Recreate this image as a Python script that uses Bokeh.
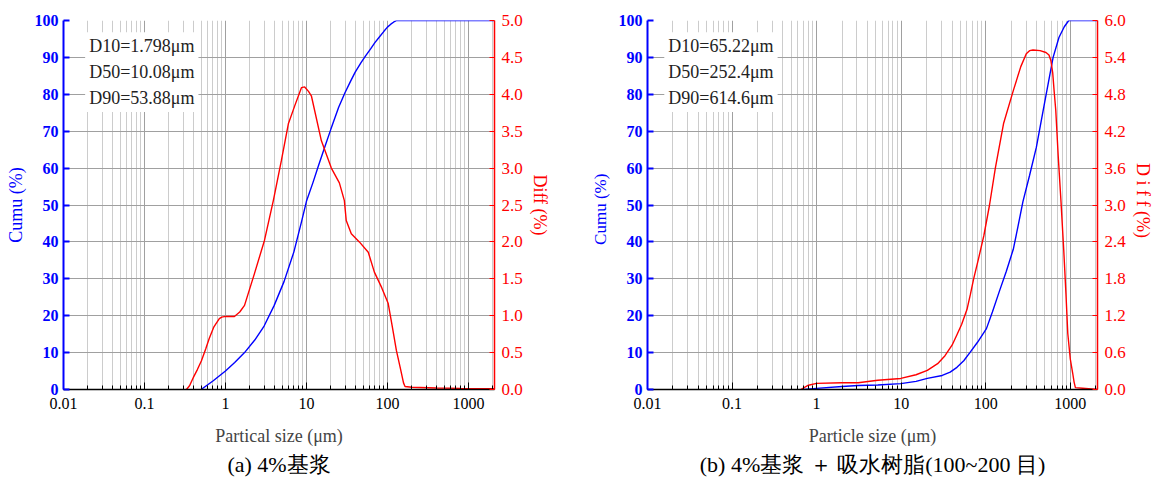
from bokeh.plotting import figure
from bokeh.models import (Range1d, LinearAxis, FixedTicker, PrintfTickFormatter,
                          CustomJSTickFormatter, Label, Title)
from bokeh.layouts import row
from bokeh.embed import file_html
from bokeh.resources import INLINE

# ---------------- data ----------------
# panel (a) 4% base slurry
a_cumu_x = [0.5, 0.7, 1, 1.3, 1.72, 2.3, 3, 4, 5.3, 7, 8.7, 10, 12, 14, 17, 20, 25, 30, 35, 40, 47, 54, 62,
            70, 80, 90, 100, 110, 120, 130, 2100]
a_cumu_y = [0, 2.3, 5, 7.3, 10, 13.4, 17.2, 22.8, 29.3, 37.3, 45.5, 51, 56, 60.5, 66, 70.5, 76.5, 80.5, 83.5,
            86, 88.5, 90.5, 92.3, 94, 95.6, 97, 98.2, 99, 99.6, 100, 100]
a_diff_x = [0.33, 0.36, 0.40, 0.45, 0.505, 0.57, 0.63, 0.72, 0.84, 0.9, 1.0, 1.29, 1.5, 1.72, 2.28, 3.03,
            3.9, 4.9, 5.98, 7.2, 8.67, 9.5, 10.6, 11.5, 15.3, 20.3, 25.5, 29.4, 31, 35.8, 45, 58, 69, 85,
            102, 115, 129, 145, 158, 165, 200, 400, 800, 2100]
a_diff_y = [0, 0.05, 0.16, 0.27, 0.39, 0.55, 0.69, 0.85, 0.96, 0.98, 0.99, 0.99, 1.05, 1.14, 1.57, 2.02,
            2.56, 3.10, 3.60, 3.85, 4.09, 4.10, 4.04, 3.98, 3.37, 3.00, 2.80, 2.56, 2.29, 2.11, 2.0, 1.86,
            1.59, 1.38, 1.17, 0.85, 0.53, 0.28, 0.09, 0.04, 0.03, 0.02, 0.015, 0.01]
a_dvals = ["D10=1.798μm", "D50=10.08μm", "D90=53.88μm"]

# panel (b) 4% base slurry + water-absorbing resin
b_cumu_x = [0.7, 1, 2, 3.1, 5.3, 9.9, 15, 20.4, 30.6, 38, 45.7, 55, 65, 80, 102, 120, 146, 175, 212, 240,
            276, 330, 397, 500, 627, 735, 850, 960, 2100]
b_cumu_y = [0, 0.3, 0.8, 1.1, 1.2, 1.6, 2.2, 3.0, 3.8, 4.7, 6.0, 7.8, 10, 12.8, 16.5, 21, 26.8, 32, 38, 44,
            51, 58, 65.6, 78, 90, 95.4, 98.3, 100, 100]
b_diff_x = [0.65, 0.8, 1.0, 2, 3.1, 5.3, 9.9, 15, 20.4, 27, 33, 40, 45.7, 52, 60, 66, 72, 82, 95, 111, 130,
            163, 212, 260, 302, 330, 363, 440, 516, 560, 590, 620, 645, 674, 720, 776, 838, 890, 935, 1000,
            1070, 1110, 1150, 1400, 2100]
b_diff_y = [0, 0.07, 0.1, 0.11, 0.11, 0.15, 0.18, 0.24, 0.31, 0.42, 0.55, 0.72, 0.89, 1.06, 1.3, 1.55, 1.8,
            2.12, 2.5, 3.0, 3.6, 4.33, 4.86, 5.25, 5.46, 5.51, 5.52, 5.51, 5.48, 5.44, 5.35, 5.15, 4.85, 4.54,
            3.8, 3.07, 2.26, 1.55, 0.91, 0.5, 0.26, 0.12, 0.03, 0.02, 0]
b_dvals = ["D10=65.22μm", "D50=252.4μm", "D90=614.6μm"]

decades = [0.01, 0.1, 1, 10, 100, 1000]
minors = [m * d for d in decades for m in range(2, 10) if m * d <= 2100]
cumu_ticks = list(range(0, 101, 10))

SERIF = "Liberation Serif"
BLUE = "#0000ff"
RED = "#ff0000"


def panel(width, bl, br, cx, cy, dx, dy, dmax, dvals, label_x, xlabel, cumu_lab, diff_lab, caption, cumu_size):
    p = figure(width=width, height=488, x_axis_type="log",
               x_range=Range1d(0.01, 2100), y_range=Range1d(0, 100),
               output_backend="svg", toolbar_location=None,
               min_border_left=bl, min_border_right=br, min_border_top=20, min_border_bottom=99)
    p.outline_line_color = None
    p.background_fill_color = "white"
    p.extra_y_ranges = {"diff": Range1d(0, dmax)}

    xt = FixedTicker(ticks=decades, minor_ticks=minors)
    xa = p.xaxis[0]
    xa.ticker = xt
    xa.formatter = CustomJSTickFormatter(code="return String(parseFloat(tick.toPrecision(4)));")
    xa.axis_line_color = "black"
    xa.axis_line_width = 1.5
    xa.major_tick_in = 7
    xa.major_tick_out = 0
    xa.minor_tick_in = 4
    xa.minor_tick_out = 0
    xa.major_tick_line_color = "black"
    xa.minor_tick_line_color = "black"
    xa.major_label_text_font = SERIF
    xa.major_label_text_font_size = "16px"
    xa.major_label_text_color = "black"
    xa.major_label_standoff = 8
    xa.axis_label = xlabel
    xa.axis_label_text_font = SERIF
    xa.axis_label_text_font_size = "18px"
    xa.axis_label_text_font_style = "normal"
    xa.axis_label_standoff = 14

    g = p.xgrid[0]
    g.ticker = xt
    g.grid_line_color = "#a0a0a0"
    g.minor_grid_line_color = "#cccccc"

    yt = FixedTicker(ticks=cumu_ticks)
    ya = p.yaxis[0]
    ya.ticker = yt
    ya.axis_line_color = BLUE
    ya.axis_line_width = 2
    ya.major_tick_line_color = BLUE
    ya.major_tick_line_width = 2
    ya.major_tick_in = 6
    ya.major_tick_out = 0
    ya.minor_tick_line_color = None
    ya.major_label_text_color = BLUE
    ya.major_label_text_font = SERIF
    ya.major_label_text_font_style = "bold"
    ya.major_label_text_font_size = "16px"
    ya.major_label_standoff = 5
    ya.axis_label = cumu_lab
    ya.axis_label_text_color = BLUE
    ya.axis_label_text_font = SERIF
    ya.axis_label_text_font_size = cumu_size
    ya.axis_label_text_font_style = "normal"
    ya.axis_label_standoff = 6
    p.ygrid[0].ticker = yt
    p.ygrid[0].grid_line_color = "#a0a0a0"

    ra = LinearAxis(y_range_name="diff",
                    ticker=FixedTicker(ticks=[round(dmax / 10 * i, 3) for i in range(11)]),
                    formatter=PrintfTickFormatter(format="%.1f"))
    ra.axis_line_color = RED
    ra.axis_line_width = 1.5
    ra.major_tick_line_color = RED
    ra.major_tick_in = 5
    ra.major_tick_out = 0
    ra.minor_tick_line_color = None
    ra.major_label_text_color = RED
    ra.major_label_text_font = SERIF
    ra.major_label_text_font_size = "17px"
    ra.major_label_standoff = 7
    ra.axis_label = diff_lab
    ra.axis_label_text_color = RED
    ra.axis_label_text_font = SERIF
    ra.axis_label_text_font_size = "18px"
    ra.axis_label_text_font_style = "normal"
    ra.axis_label_standoff = 4
    p.add_layout(ra, "right")

    p.line(cx, cy, line_color=BLUE, line_width=1.4)
    p.line(dx, dy, line_color=RED, line_width=1.4, y_range_name="diff")

    for i, t in enumerate(dvals):
        p.add_layout(Label(x=label_x, y=93 - 7 * i, text=t, text_font=SERIF, text_font_size="18px",
                           text_color="#222222", text_baseline="middle",
                           background_fill_color="white", padding=4))

    p.add_layout(Title(text=caption, align="center", text_font=SERIF, text_font_size="22px",
                       text_font_style="normal", text_color="black", standoff=2), "below")
    return p


p1 = panel(577, 63, 83, a_cumu_x, a_cumu_y, a_diff_x, a_diff_y, 5.0, a_dvals, 0.0185,
           "Partical size (μm)", "Cumu (%)", "Diff (%)", "(a) 4%基浆", "18px")
p2 = panel(578, 70, 52, b_cumu_x, b_cumu_y, b_diff_x, b_diff_y, 6.0, b_dvals, 0.0158,
           "Particle size (μm)", "Cumu   (%)", "D i f f   (%)", "(b) 4%基浆 ＋ 吸水树脂(100~200 目)", "17px")

layout = row(p1, p2)
open("out.html", "w").write(file_html(layout, INLINE))
